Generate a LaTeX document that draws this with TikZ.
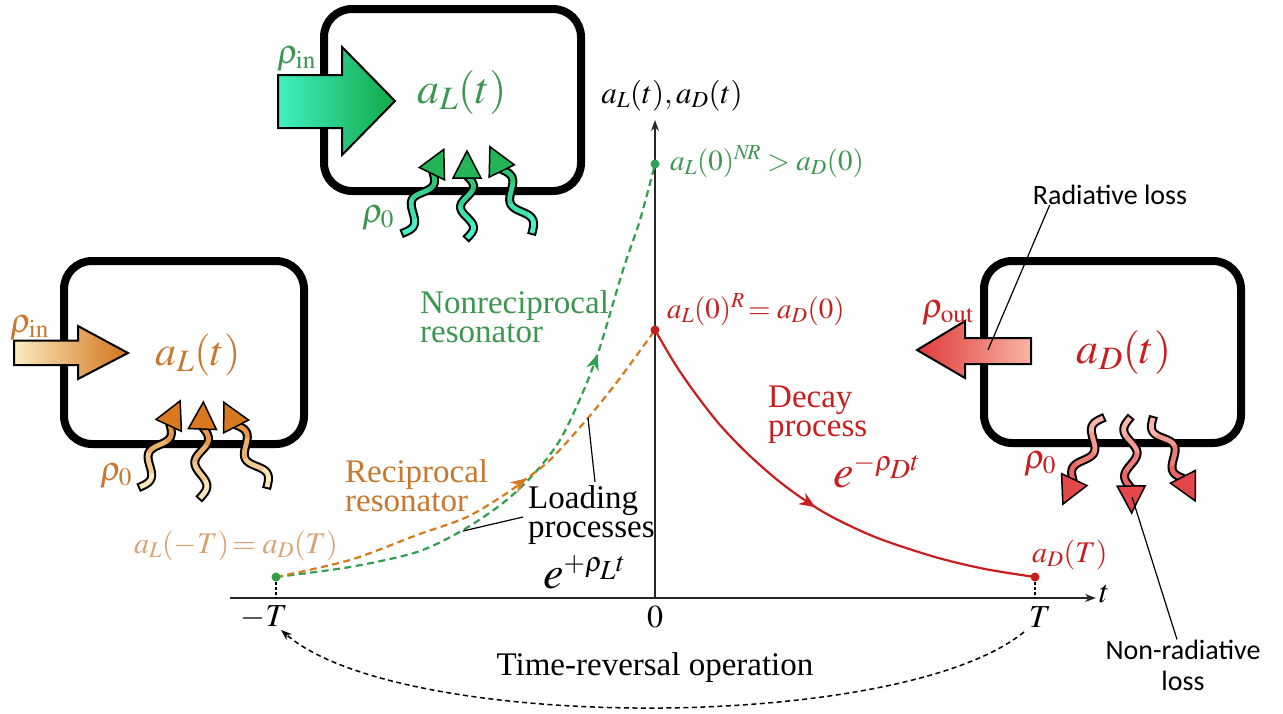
\documentclass[tikz,border=0pt]{standalone}
\usepackage[no-math]{fontspec}
\usepackage{mathptmx}
\setmainfont{Liberation Serif}
\newfontfamily\sansfnt{Carlito}
\usetikzlibrary{arrows.meta,decorations.markings,calc}
\definecolor{cgreen}{HTML}{3C9650}
\definecolor{cgcurve}{HTML}{2F9F50}
\definecolor{corange}{HTML}{C8782E}
\definecolor{cocurve}{HTML}{D67A20}
\definecolor{ctan}{HTML}{D9A070}
\definecolor{cred}{HTML}{C81E1E}
\definecolor{gL}{HTML}{40F0C0}
\definecolor{gR}{HTML}{12A848}
\definecolor{oL}{HTML}{FBEBC0}
\definecolor{oR}{HTML}{D2741A}
\definecolor{rL}{HTML}{E03A3A}
\definecolor{rR}{HTML}{F9B4A4}
\definecolor{gBody}{HTML}{48F0C8}
\definecolor{gHead}{HTML}{22B455}
\definecolor{oBody}{HTML}{F8E6B8}
\definecolor{oHead}{HTML}{D9791F}
\definecolor{rBody}{HTML}{F8B4A8}
\definecolor{rHead}{HTML}{E4474A}
\newcommand\fsz[2]{\fontsize{#1}{#2}\selectfont}
\newcommand\wavearr[6]{%
  \begin{scope}[shift={(#1,#2)}, rotate=#3]
    \draw[line width=9pt, black, line cap=butt] plot[smooth, samples=31, domain=-1.5:#4] ({6.5*sin(\x/#4*540)},{-\x});
    \foreach \sa/\sb/\pc in {0/0.27/100, 0.25/0.52/75, 0.5/0.77/50, 0.75/1/28}{
      \draw[line width=4.8pt, #5!\pc!#6, line cap=butt] plot[smooth, samples=12, domain=\sa*#4:\sb*#4] ({6.5*sin(\x/#4*540)},{-\x});
    }
    \filldraw[fill=#6, draw=black, line width=1.5pt, line join=miter] (-14,-#4+2) -- (14,-#4+2) -- (0,-#4-25) -- cycle;
  \end{scope}}
\begin{document}
\begin{tikzpicture}[x=1pt,y=-1pt,
  resbox/.style={draw=black, line width=8pt, rounded corners=28pt, inner sep=0pt, outer sep=0pt},
  bigarrow/.style={draw=black, line width=2pt, line join=miter},
  axis/.style={line width=1.3pt, black!85, -{Stealth[length=11pt,width=8pt]}},
  dot/.style={circle, inner sep=0pt, minimum size=9pt},
  tickln/.style={line width=1.2pt, black, dash pattern=on 3pt off 2pt},
  curvedash/.style={line width=2.2pt, dash pattern=on 7pt off 4.5pt},
  leader/.style={line width=1.2pt, black},
  lbl/.style={inner sep=0pt, font=\fsz{33}{29}, align=left},
  midarrow/.style={postaction={decorate, decoration={markings, mark=at position #1 with {\arrow[solid]{Stealth[length=16pt,width=13pt,inset=5pt]}}}}}
]
\useasboundingbox (0,0) rectangle (1283,713);

% resonator boxes
\node[resbox, minimum width=257pt, minimum height=182pt] (topbox) at (452.5,100) {};
\node[resbox, minimum width=240pt, minimum height=183pt] (leftbox) at (184,352.5) {};
\node[resbox, minimum width=257pt, minimum height=182pt] (rightbox) at (1112.5,352) {};

% big arrows
\path[bigarrow, left color=gL, right color=gR] (278,75) -- (342,75) -- (342,47) -- (395,101) -- (342,155) -- (342,128) -- (278,128) -- cycle;
\path[bigarrow, left color=oL, right color=oR] (14,340.5) -- (78,340.5) -- (78,326) -- (128,353) -- (78,379) -- (78,365) -- (14,365) -- cycle;
\path[bigarrow, left color=rL, right color=rR] (1031,338) -- (965,338) -- (965,321) -- (917,350) -- (965,378) -- (965,364) -- (1031,364) -- cycle;

% wavy arrows
\wavearr{403}{233}{-26}{68}{gBody}{gHead}
\wavearr{467}{238}{0}{62}{gBody}{gHead}
\wavearr{532}{233}{26}{71}{gBody}{gHead}
\wavearr{140}{487}{-25}{70}{oBody}{oHead}
\wavearr{200}{498}{-2}{71}{oBody}{oHead}
\wavearr{267}{487}{27}{70}{oBody}{oHead}
\wavearr{1103}{418}{155}{70}{rBody}{rHead}
\wavearr{1130}{418}{181}{70}{rBody}{rHead}
\wavearr{1153}{418}{207}{68}{rBody}{rHead}

% resonator labels
\node[anchor=base west, inner sep=0pt, text=cgreen, font=\fsz{34}{34}] (toprin) at (277,63) {$\rho_{\mathrm{in}}$};
\node[anchor=base, inner sep=0pt, text=cgreen, font=\fsz{44}{44}] (topaL) at (462,103) {$a_L(t)$};
\node[anchor=base west, inner sep=0pt, text=cgreen, font=\fsz{34}{34}] (toprho) at (362,222) {$\rho_0$};
\node[anchor=base west, inner sep=0pt, text=corange, font=\fsz{34}{34}] (leftrin) at (10,332) {$\rho_{\mathrm{in}}$};
\node[anchor=base, inner sep=0pt, text=corange, font=\fsz{42}{42}] (leftaL) at (198,365) {$a_L(t)$};
\node[anchor=base west, inner sep=0pt, text=corange, font=\fsz{34}{34}] (leftrho) at (100,480) {$\rho_0$};
\node[anchor=base west, inner sep=0pt, text=cred, font=\fsz{34}{34}] (rightrout) at (922,317) {$\rho_{\mathrm{out}}$};
\node[anchor=base, inner sep=0pt, text=cred, font=\fsz{44}{44}] (rightaD) at (1124,363) {$a_D(t)$};
\node[anchor=base west, inner sep=0pt, text=cred, font=\fsz{34}{34}] (rightrho) at (1024,468) {$\rho_0$};

% axes
\coordinate (xstart) at (230,598);
\coordinate (xend) at (1096,598);
\coordinate (origin) at (655,598);
\coordinate (yend) at (655,120);
\draw[axis] (xstart) -- (xend);
\draw[axis] (origin) -- (yend);
\node[anchor=base, inner sep=0pt, font=\fsz{31}{31}] (ylab) at (672,103) {$a_L(t),a_D(t)$};
\node[anchor=base west, inner sep=0pt, font=\fsz{32}{32}] (tlab) at (1099,602) {$t$};
\node[anchor=base, inner sep=0pt, font=\fsz{32}{32}] (mTlab) at (264,626) {$-T$};
\node[anchor=base, inner sep=0pt, font=\fsz{32}{32}] (zlab) at (655,627) {$0$};
\node[anchor=base, inner sep=0pt, font=\fsz{32}{32}] (pTlab) at (1040,627) {$T$};

% key points
\coordinate (pg0) at (276,577);
\coordinate (pg1) at (655,164);
\coordinate (pr0) at (655,330);
\coordinate (pr1) at (1035,577);
\coordinate (mT) at (276,598);
\coordinate (pT) at (1035,598);
\draw[tickln] (pg0) -- (mT);
\draw[tickln] (pr1) -- (pT);

% curves
\draw[curvedash, cgcurve, midarrow=0.68] plot[smooth] coordinates {(pg0) (350,567) (417,552) (463,530) (503,503) (533,475) (560,440) (583,392) (600,347) (623,270) (640,220) (pg1)};
\draw[curvedash, cocurve, midarrow=0.58] plot[smooth] coordinates {(pg0) (350,560) (417,535) (467,517) (507,493) (523,481) (550,460) (588,418) (620,378) (pr0)};
\draw[line width=2.2pt, cred, midarrow=0.51] plot[smooth] coordinates {(pr0) (675,364) (695,393) (720,425) (750,456) (785,486) (825,513) (875,537) (935,557) (985,569) (pr1)};

% dots
\node[dot, fill=cgcurve] (gstart) at (pg0) {};
\node[dot, fill=cgcurve] (gtop) at (pg1) {};
\node[dot, fill=cred] (rtop) at (pr0) {};
\node[dot, fill=cred] (rend) at (pr1) {};

% point labels
\node[anchor=base west, inner sep=0pt, text=cgreen, font=\fsz{29}{29}] (nrlbl) at (670,170) {$a_L(0)^{N\!R} > a_D(0)$};
\node[anchor=base west, inner sep=0pt, text=cred, font=\fsz{29}{29}] (rlbl) at (667,318) {$a_L(0)^{R}\!= a_D(0)$};
\node[anchor=base east, inner sep=0pt, text=ctan, font=\fsz{30}{30}] (mtlbl) at (338,553) {$a_L(-T)\!= a_D(T)$};
\node[anchor=base west, inner sep=0pt, text=cred, font=\fsz{30}{30}] (ptlbl) at (1032,562) {$a_D(T)$};

% curve labels
\node[lbl, anchor=north west, text=cgreen] (nonrec) at (420,290.5) {Nonreciprocal\\resonator};
\node[lbl, anchor=north west, text=corange] (recip) at (345,459.5) {Reciprocal\\resonator};
\node[lbl, anchor=north west, text=black] (loadlbl) at (528,485.5) {Loading\\processes};
\node[lbl, anchor=north west, text=cred] (decay) at (768,385.5) {Decay\\process};
\node[anchor=base west, inner sep=0pt, font=\fsz{46}{46}] (eplus) at (543,588) {$e^{\scriptscriptstyle +\rho_L t}$};
\node[anchor=base west, inner sep=0pt, text=cred, font=\fsz{46}{46}] (eminus) at (833,487) {$e^{\scriptscriptstyle -\rho_D t}$};

% loading leaders
\coordinate (ldA) at (463,531);
\coordinate (ldB) at (588,418);
\draw[leader] (ldA) -- ($(loadlbl.north west)+(-5,31.5)$);
\draw[leader] ($(loadlbl.north west)+(67,-3.5)$) -- (ldB);

% loss labels
\node[inner sep=0pt, font=\sansfnt\fsz{28}{28}] (radlbl) at (1110,195) {Radiative loss};
\node[inner sep=0pt, font=\sansfnt\fsz{28}{31}, align=center] (nonrad) at (1183,665) {Non-radiative\\loss};
\coordinate (radtip) at (988,350);
\coordinate (nrtip) at (1132,497);
\draw[leader] ($(radlbl.south west)+(17,0)$) -- (radtip);
\draw[leader] (nrtip) -- ($(nonrad.north)+(-6,0)$);

% time reversal
\coordinate (trs) at (1024,632);
\coordinate (tre) at (281,630);
\draw[line width=1.5pt, dash pattern=on 5pt off 3.5pt, -{Stealth[length=11pt,width=8pt]}] (trs) .. controls (900,733) and (400,733) .. (tre);
\node[inner sep=0pt, font=\fsz{33}{33}] (trlbl) at (655,668) {Time-reversal operation};
\end{tikzpicture}
\end{document}
